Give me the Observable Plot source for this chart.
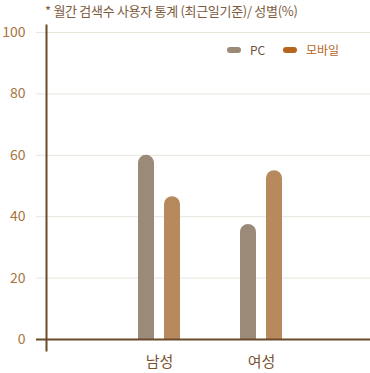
<!DOCTYPE html>
<html><head><meta charset="utf-8">
<script src="https://cdn.jsdelivr.net/npm/d3@7"></script>
<script src="https://cdn.jsdelivr.net/npm/@observablehq/plot@0.6"></script>
<style>
body{margin:0;background:#fff;font-family:"Noto Sans CJK KR","Noto Sans",sans-serif;}
#wrap{position:relative;width:370px;height:373px;overflow:hidden;}
#title{position:absolute;left:45px;top:1px;height:22px;font-size:13px;line-height:20px;color:#7d5a3c;white-space:nowrap;letter-spacing:-0.3px;}
#legend{position:absolute;top:40px;left:227px;height:20px;font-size:12px;line-height:20px;white-space:nowrap;}
#legend span.item{position:absolute;top:0;white-space:nowrap;}
#legend i{position:absolute;top:7px;width:14px;height:6px;border-radius:3px;}
#chart{position:absolute;top:22px;left:0;}
</style>
</head><body>
<div id="wrap">
  <div id="title">* 월간 검색수 사용자 통계 (최근일기준)/ 성별(%)</div>
  <div id="chart"></div>
  <div id="legend"></div>
</div>
<script>
const categories = ["남성", "여성"];
const seriesNames = ["PC", "모바일"];
const pcValues = [60, 37.5];
const mobileValues = [46.5, 55];
const yTicks = [0, 20, 40, 60, 80, 100];
const seriesColors = ["#9b8a78", "#b78a5e"];
const legendSwatchColors = ["#9b8a78", "#b5651d"];
const legendTextColors = ["#6f5235", "#b5651d"];

const rows = [];
categories.forEach((c, i) => {
  rows.push({category: c, series: seriesNames[0], value: pcValues[i]});
  rows.push({category: c, series: seriesNames[1], value: mobileValues[i]});
});
const pcRows = rows.filter(d => d.series === seriesNames[0]);
const mobRows = rows.filter(d => d.series === seriesNames[1]);

const axisColor = "#6b4a2c";

const barOpts = (data, left, right, extra) => Plot.barY(data, Object.assign({
  x: "category", y: "value", fill: "series", insetLeft: left, insetRight: right
}, extra));

const chart = Plot.plot({
  width: 370,
  height: 351,
  marginLeft: 46,
  marginRight: 0,
  marginTop: 10,
  marginBottom: 34,
  style: {fontFamily: '"Noto Sans CJK KR","Noto Sans",sans-serif', background: "transparent"},
  x: {domain: categories, paddingInner: 0.588, paddingOuter: 0.882, align: 0.511},
  y: {domain: [0, 100]},
  color: {domain: seriesNames, range: seriesColors},
  marks: [
    Plot.ruleY(yTicks.filter(d => d > 0), {stroke: "#e9e5dd", strokeWidth: 1, insetLeft: -10}),
    barOpts(pcRows, 0, 26, {rx: 8, ry: 8}),
    barOpts(pcRows, 0, 26, {insetTop: 8}),
    barOpts(mobRows, 26, 0, {rx: 8, ry: 8}),
    barOpts(mobRows, 26, 0, {insetTop: 8}),
    Plot.ruleY([0], {stroke: axisColor, strokeWidth: 2, insetLeft: -10}),
    Plot.frame({anchor: "left", stroke: axisColor, strokeWidth: 2, insetTop: -7, insetBottom: -11}),
    Plot.axisY({ticks: yTicks, tickSize: 0, tickPadding: 21, fontSize: 14, fill: "#a8743f", label: null}),
    Plot.axisX({tickSize: 0, tickPadding: 17, fontSize: 15, fill: "#7a5232", label: null})
  ]
});
document.getElementById("chart").appendChild(chart);

const legend = document.getElementById("legend");
const offsets = [0, 56];
seriesNames.forEach((s, i) => {
  const item = document.createElement("span");
  item.className = "item";
  item.style.left = offsets[i] + "px";
  const sw = document.createElement("i");
  sw.style.left = "0px";
  sw.style.background = legendSwatchColors[i];
  const t = document.createElement("span");
  t.textContent = s;
  t.style.position = "absolute";
  t.style.left = "23px";
  t.style.color = legendTextColors[i];
  item.appendChild(sw);
  item.appendChild(t);
  legend.appendChild(item);
});
</script>
</body></html>
